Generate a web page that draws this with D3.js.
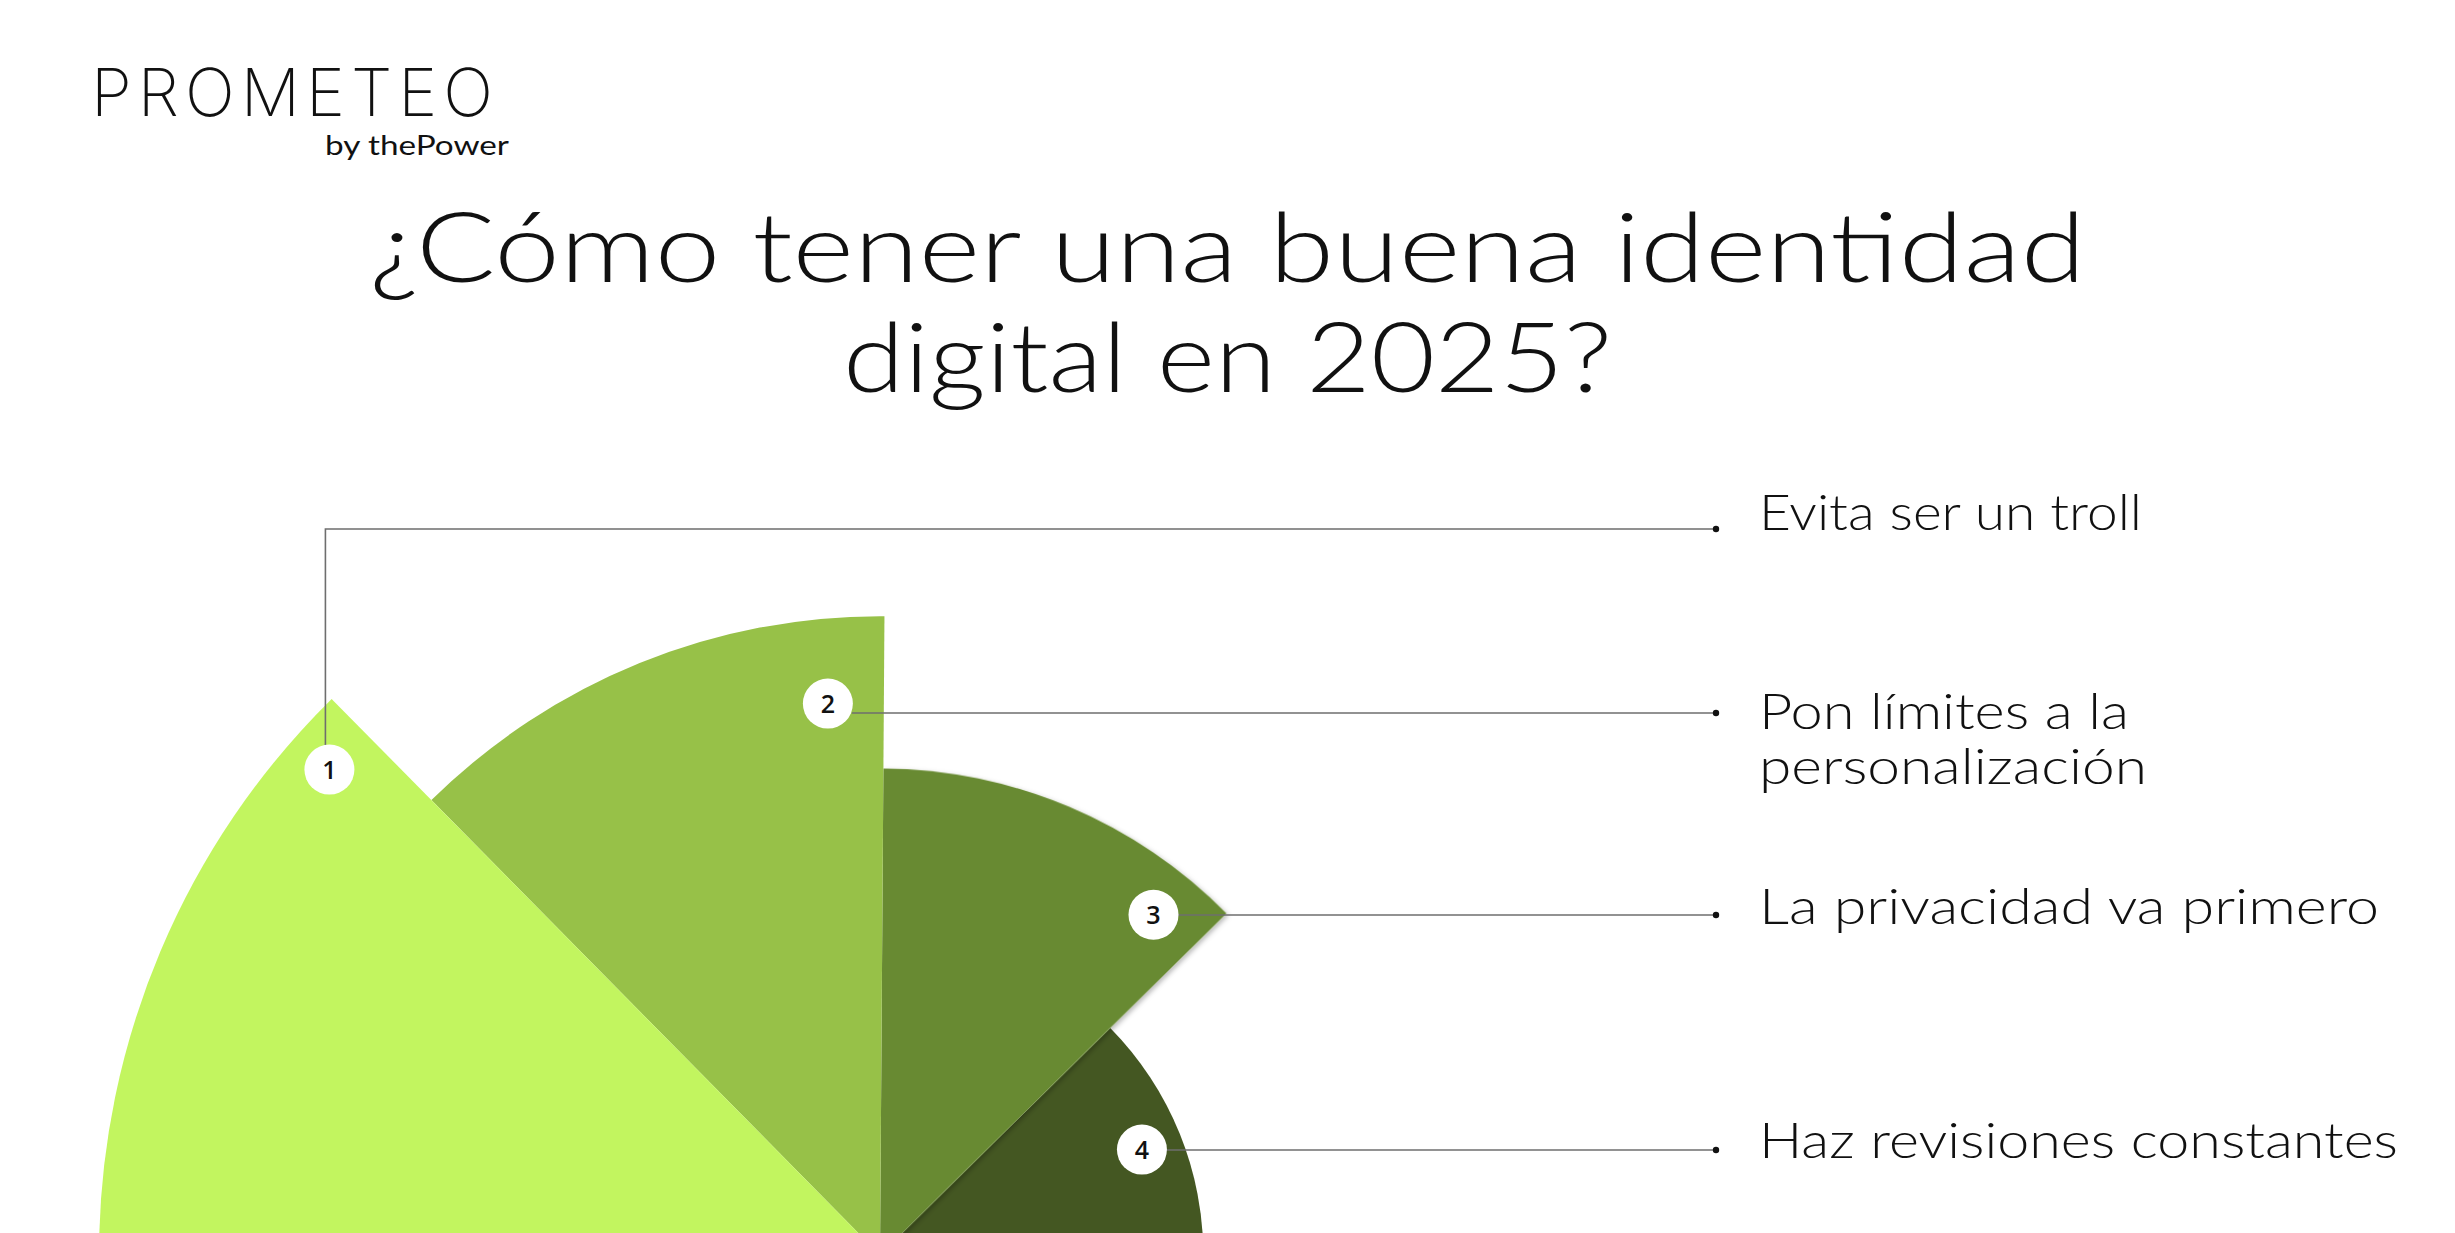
<!DOCTYPE html>
<html>
<head>
<meta charset="utf-8">
<script src="https://cdn.jsdelivr.net/npm/d3@7"></script>
<style>
  html, body { margin: 0; padding: 0; background: #fff; }
  svg { display: block; }
  .title { font-family: Lato, "Open Sans", sans-serif; font-weight: 300; fill: #111; }
  .label { font-family: Lato, "Open Sans", sans-serif; font-weight: 300; fill: #111; }
  .badge-text { font-family: "Open Sans", Lato, sans-serif; font-weight: 600; fill: #111; }
</style>
</head>
<body>
<div id="chart"></div>
<script>
// Data
const steps = ["1", "2", "3", "4"];
const categories = [
  ["Evita ser un troll"],
  ["Pon límites a la", "personalización"],
  ["La privacidad va primero"],
  ["Haz revisiones constantes"]
];
const values = [100, 81.8, 62.3, 41.4];
const sliceColors = ["#c2f55f", "#97c148", "#688a31", "#445722"];
const titleLines = ["¿Cómo tener una buena identidad", "digital en 2025?"];

const width = 2455, height = 1233;
const center = { x: 880, y: 1255 };

// layout for annotations
const badgeAngleFrac = [0.92, 0.88, 0.862, 0.513];
const badgeInset = [47, 85, 50, 41];
const leaderY = [529, 713, 915, 1150];
const labelBaseline = [530, 729, 924, 1158];
const labelWidths = [[383], [370, 388], [620], [639]];
const dotX = 1716, labelX = 1759;

const svg = d3.select("#chart")
  .append("svg")
  .attr("width", width)
  .attr("height", height)
  .attr("viewBox", `0 0 ${width} ${height}`);

const defs = svg.append("defs");
defs.append("filter")
  .attr("id", "shadow")
  .attr("x", "-10%").attr("y", "-10%").attr("width", "130%").attr("height", "130%")
  .append("feDropShadow")
  .attr("dx", 2).attr("dy", 2).attr("stdDeviation", 2.5)
  .attr("flood-color", "#000").attr("flood-opacity", 0.28);

// Logo
svg.append("text")
  .attr("x", 91).attr("y", 116)
  .attr("font-family", "Inter, Lato, sans-serif")
  .attr("font-weight", 200)
  .attr("font-size", 66)
  .attr("textLength", 402)
  .attr("lengthAdjust", "spacing")
  .attr("fill", "#111")
  .text("PROMETEO");

svg.append("text")
  .attr("x", 325).attr("y", 155)
  .attr("font-family", "Lato, sans-serif")
  .attr("font-weight", 400)
  .attr("font-size", 27)
  .attr("textLength", 184)
  .attr("lengthAdjust", "spacingAndGlyphs")
  .attr("fill", "#111")
  .text("by thePower");

// Title
const titleWidths = [1716, 769];
svg.selectAll(".title")
  .data(titleLines)
  .join("text")
  .attr("class", "title")
  .attr("x", width / 2)
  .attr("y", (d, i) => 282 + i * 110)
  .attr("text-anchor", "middle")
  .attr("font-size", 96)
  .attr("textLength", (d, i) => titleWidths[i])
  .attr("lengthAdjust", "spacingAndGlyphs")
  .text(d => d);

// Polar area chart
const angle = d3.scaleBand()
  .domain(steps)
  .range([-Math.PI / 2, Math.PI / 2])
  .paddingInner(0).paddingOuter(0);

const radius = d3.scaleLinear()
  .domain([0, 100])
  .range([0, 781]);

const arc = d3.arc()
  .innerRadius(0)
  .outerRadius(d => radius(d.value))
  .startAngle(d => angle(d.step))
  .endAngle(d => angle(d.step) + angle.bandwidth());

const rows = steps.map((s, i) => ({ step: s, value: values[i], color: sliceColors[i], idx: i }));

const chart = svg.append("g")
  .attr("transform", `translate(${center.x},${center.y}) rotate(0.4)`);

// draw darkest first so the lighter ones sit on top
chart.selectAll("path.slice")
  .data(rows.slice().reverse())
  .join("path")
  .attr("class", "slice")
  .attr("d", arc)
  .attr("fill", d => d.color)
  .attr("filter", d => d.idx === 2 ? "url(#shadow)" : null);

// Badge positions through the scales
const badgePos = rows.map(d => {
  const a = angle(d.step) + angle.bandwidth() * badgeAngleFrac[d.idx];
  const r = radius(d.value) - badgeInset[d.idx];
  return { x: center.x + r * Math.sin(a), y: center.y - r * Math.cos(a) };
});

// Leader lines
const leaders = svg.append("g")
  .attr("fill", "none")
  .attr("stroke", "#6e6e6e")
  .attr("stroke-width", 1.6);

rows.forEach((d, i) => {
  const b = badgePos[i];
  if (i === 0) {
    leaders.append("path")
      .attr("d", `M${b.x - 4},${b.y - 24}V${leaderY[i]}H${dotX}`);
  } else {
    leaders.append("path")
      .attr("d", `M${b.x + 24},${leaderY[i]}H${dotX}`);
  }
});

svg.selectAll("circle.dot")
  .data(leaderY)
  .join("circle")
  .attr("class", "dot")
  .attr("cx", dotX)
  .attr("cy", d => d)
  .attr("r", 3.2)
  .attr("fill", "#111");

// Badges
const badges = svg.selectAll("g.badge")
  .data(rows)
  .join("g")
  .attr("class", "badge")
  .attr("transform", (d, i) => `translate(${badgePos[i].x},${badgePos[i].y})`);

badges.append("circle")
  .attr("r", 25)
  .attr("fill", "#fff");

badges.append("text")
  .attr("class", "badge-text")
  .attr("text-anchor", "middle")
  .attr("dy", "0.36em")
  .attr("font-size", 25)
  .text(d => d.step);

// Labels
categories.forEach((lines, i) => {
  lines.forEach((line, j) => {
    svg.append("text")
      .attr("class", "label")
      .attr("x", labelX)
      .attr("y", labelBaseline[i] + j * 55)
      .attr("font-size", 49)
      .attr("textLength", labelWidths[i][j])
      .attr("lengthAdjust", "spacingAndGlyphs")
      .text(line);
  });
});
</script>
</body>
</html>
